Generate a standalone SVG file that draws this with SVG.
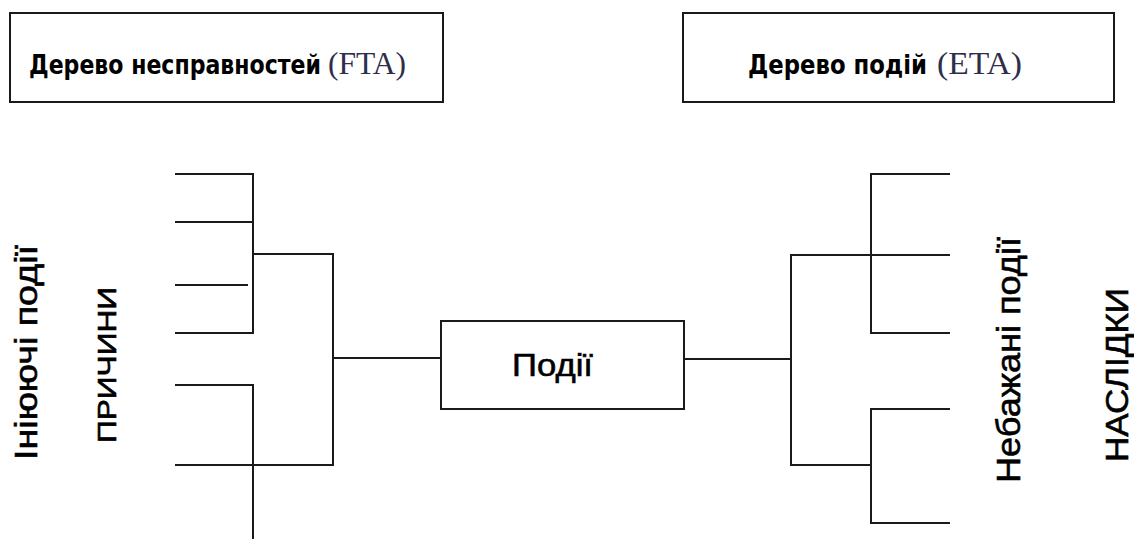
<svg xmlns="http://www.w3.org/2000/svg" width="1134" height="539" viewBox="0 0 1134 539">
  <style>
    .box { fill: #ffffff; stroke: #1a1a1a; stroke-width: 2; }
    .wire { fill: none; stroke: #1a1a1a; stroke-width: 2; stroke-linecap: butt; }
    .head { font-family: "DejaVu Sans Condensed", "DejaVu Sans", Verdana, sans-serif; font-weight: bold; font-size: 24px; fill: #000; }
    .abbr { font-family: "Liberation Serif", "Times New Roman", serif; font-weight: normal; font-size: 31px; fill: #2e2e4a; }
    .lbl { font-family: "Liberation Sans", Arial, sans-serif; fill: #000; stroke: #000; stroke-width: 0.6; }
  </style>
  <rect width="1134" height="539" fill="#ffffff"/>

  <!-- Header: fault tree -->
  <g id="fta-header">
    <rect class="box" x="10" y="13" width="433" height="89"/>
    <text class="head" x="29" y="74" textLength="292" lengthAdjust="spacingAndGlyphs" transform="translate(29,74) scale(1,1.1) translate(-29,-74)">Дерево несправностей</text>
    <text class="abbr" x="328" y="74" textLength="78" lengthAdjust="spacingAndGlyphs">(FTA)</text>
  </g>

  <!-- Header: event tree -->
  <g id="eta-header">
    <rect class="box" x="683" y="13" width="431" height="89"/>
    <text class="head" x="748" y="74" textLength="179" lengthAdjust="spacingAndGlyphs" transform="translate(748,74) scale(1,1.1) translate(-748,-74)">Дерево подій</text>
    <text class="abbr" x="937" y="74" textLength="85" lengthAdjust="spacingAndGlyphs">(ETA)</text>
  </g>

  <!-- Central event -->
  <g id="events">
    <rect class="box" x="441" y="321" width="243" height="88"/>
    <text class="lbl" x="552.5" y="376" font-size="32" text-anchor="middle" textLength="81" lengthAdjust="spacingAndGlyphs">Події</text>
  </g>

  <!-- Side labels -->
  <g id="initiating-events">
    <text class="lbl" transform="translate(37,352.5) rotate(-90)" font-size="32" text-anchor="middle" textLength="215" lengthAdjust="spacingAndGlyphs">Ініюючі події</text>
  </g>
  <g id="causes">
    <text class="lbl" transform="translate(116,365) rotate(-90)" font-size="25" text-anchor="middle" textLength="156" lengthAdjust="spacingAndGlyphs">ПРИЧИНИ</text>
  </g>
  <g id="undesired-events">
    <text class="lbl" transform="translate(1020,360) rotate(-90)" font-size="33" text-anchor="middle" textLength="246" lengthAdjust="spacingAndGlyphs">Небажані події</text>
  </g>
  <g id="consequences">
    <text class="lbl" transform="translate(1128,375) rotate(-90)" font-size="32" text-anchor="middle" textLength="174" lengthAdjust="spacingAndGlyphs">НАСЛІДКИ</text>
  </g>

  <!-- Tree branches -->
  <g id="connectors">
    <!-- left (causes) side -->
    <path class="wire" d="M175 174 H253 V333 H175"/>
    <path class="wire" d="M175 222 H253"/>
    <path class="wire" d="M175 285 H248"/>
    <path class="wire" d="M175 385 H253 V539"/>
    <path class="wire" d="M175 465 H333 V254 H253"/>
    <path class="wire" d="M333 358 H441"/>
    <!-- right (consequences) side -->
    <path class="wire" d="M684 359 H791"/>
    <path class="wire" d="M950 255 H791 V465 H871"/>
    <path class="wire" d="M950 174 H871 V333 H950"/>
    <path class="wire" d="M950 409 H871 V523 H950"/>
  </g>
</svg>
